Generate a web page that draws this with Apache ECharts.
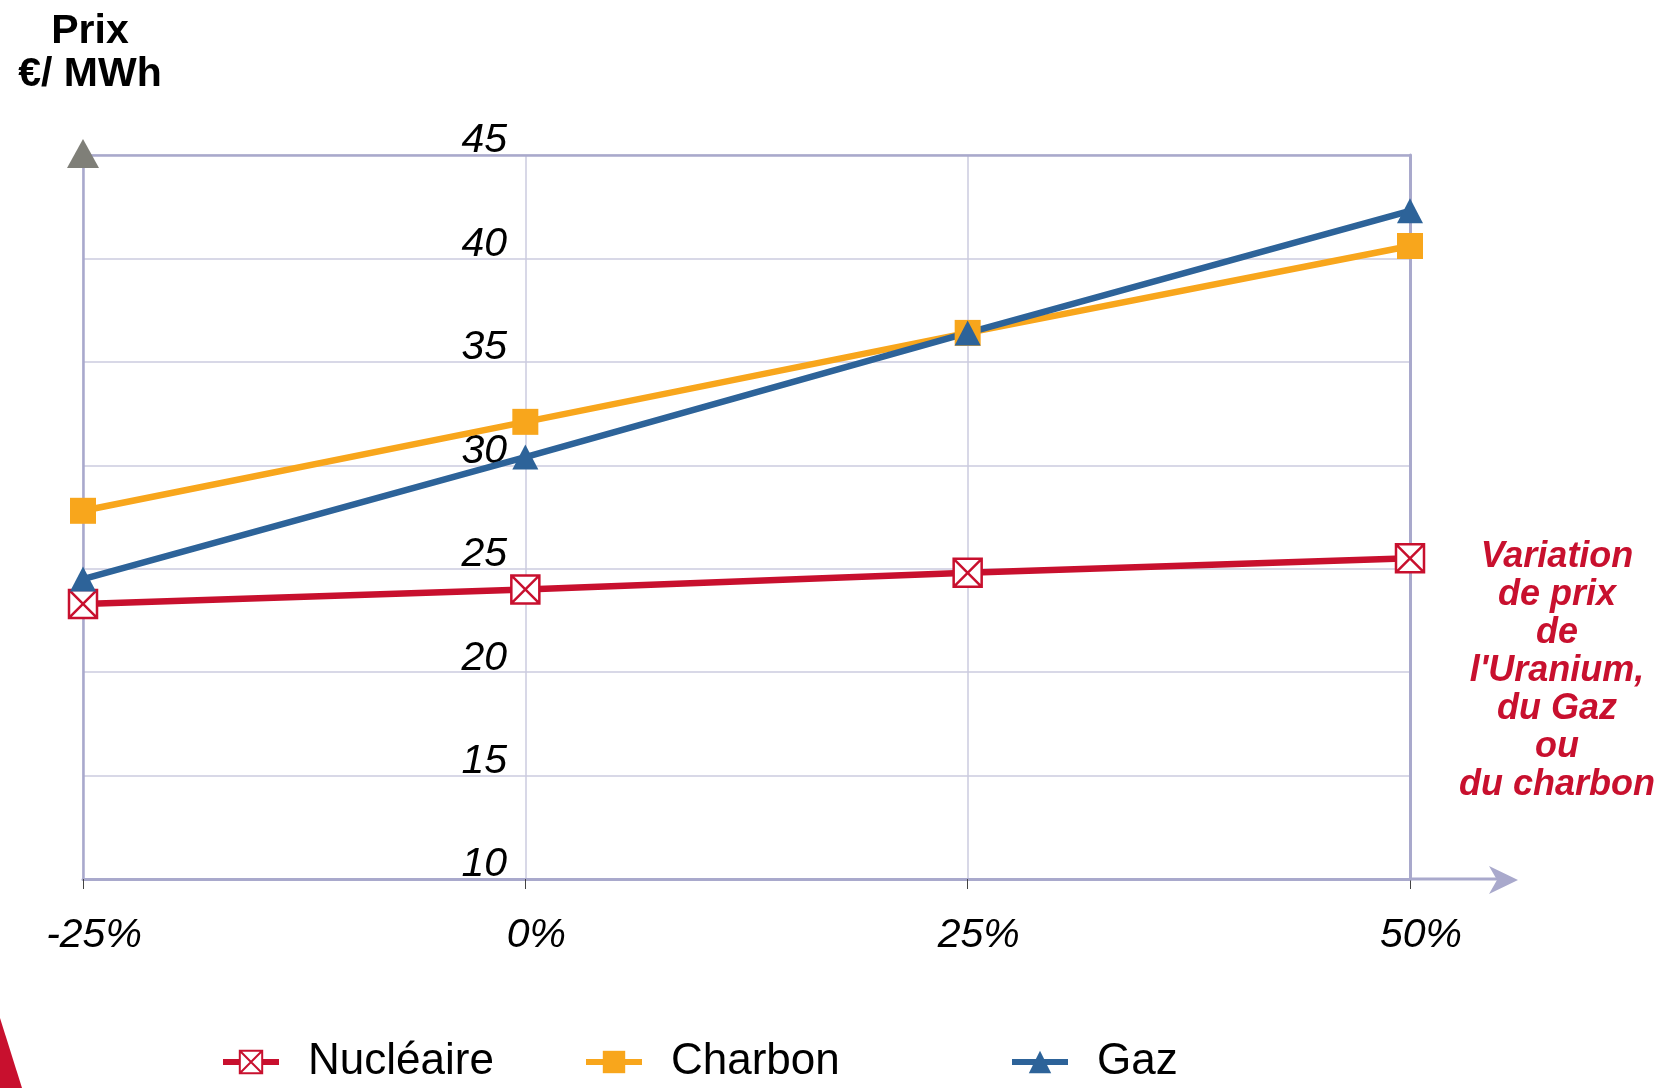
<!DOCTYPE html>
<html>
<head>
<meta charset="utf-8">
<script src="https://cdn.jsdelivr.net/npm/echarts@6/dist/echarts.min.js"></script>
<style>
  html, body { margin: 0; padding: 0; background: #ffffff; }
  #chart { width: 1662px; height: 1088px; }
</style>
</head>
<body>
<div id="chart"></div>
<script>
// Price variation scenarios (x) and resulting generation cost in €/MWh (y)
const categories = ['-25%', '0%', '25%', '50%'];
const nucleaire = [23.3, 24.0, 24.8, 25.5];
const charbon = [27.8, 32.1, 36.4, 40.6];
const gaz = [24.5, 30.4, 36.4, 42.3];
const seriesNames = ['Nucléaire', 'Charbon', 'Gaz'];
const yMin = 10, yMax = 45, yStep = 5;

const RED = '#c8102e';
const ORANGE = '#f8a61c';
const BLUE = '#2d6399';
const AXIS = '#a9a9cc';
const GRID = '#cbcbdf';
const FONT = '"Liberation Sans", Arial, sans-serif';

const boxCross = 'path://M0,0H20V20H0Z M0,0L20,20 M20,0L0,20';

const chart = echarts.init(document.getElementById('chart'), null, { renderer: 'canvas' });

const legendBase = {
  orient: 'horizontal',
  itemWidth: 56,
  itemHeight: 28,
  top: 1035,
  lineStyle: { width: 6 },
  textStyle: { fontSize: 44, color: '#000', fontFamily: FONT, padding: [0, 0, 0, 24] }
};

chart.setOption({
  backgroundColor: '#ffffff',
  animation: false,
  title: [
    {
      text: 'Prix\n€/ MWh',
      left: 85,
      top: 5,
      textAlign: 'center',
      textStyle: { fontSize: 41, fontWeight: 'bold', color: '#000', fontFamily: FONT, lineHeight: 43 }
    },
    {
      text: "Variation\nde prix\nde\nl'Uranium,\ndu Gaz\nou\ndu charbon",
      left: 1552,
      top: 533,
      textAlign: 'center',
      textStyle: { fontSize: 36, fontWeight: 'bold', fontStyle: 'italic', color: RED, fontFamily: FONT, lineHeight: 38 }
    }
  ],
  legend: [
    Object.assign({}, legendBase, { left: 215, data: [seriesNames[0]] }),
    Object.assign({}, legendBase, { left: 578, data: [seriesNames[1]] }),
    Object.assign({}, legendBase, { left: 1004, data: [seriesNames[2]] })
  ],
  grid: { left: 83, right: 252, top: 155, bottom: 209, containLabel: false },
  xAxis: [
    {
      type: 'category',
      data: categories,
      boundaryGap: false,
      axisLine: { show: true, lineStyle: { color: AXIS, width: 3 } },
      axisTick: { show: true, length: 10, lineStyle: { color: '#444', width: 1 } },
      axisLabel: {
        margin: 36, fontSize: 41, fontStyle: 'italic', color: '#000', fontFamily: FONT,
        padding: [0, 0, 0, 22]
      },
      splitLine: { show: true, lineStyle: { color: GRID, width: 1.5 } }
    },
    {
      type: 'category',
      data: categories,
      boundaryGap: false,
      position: 'top',
      axisLine: { show: true, lineStyle: { color: AXIS, width: 2.5 } },
      axisTick: { show: false },
      axisLabel: { show: false },
      splitLine: { show: false }
    }
  ],
  yAxis: [
    {
      type: 'value',
      min: yMin, max: yMax, interval: yStep,
      axisLine: { show: true, lineStyle: { color: AXIS, width: 2.5 } },
      axisTick: { show: false },
      axisLabel: {
        margin: -424, fontSize: 41, fontStyle: 'italic', color: '#000', fontFamily: FONT,
        align: 'right', verticalAlign: 'bottom', lineHeight: 28
      },
      splitLine: { show: true, lineStyle: { color: GRID, width: 1.5 } }
    },
    {
      type: 'value',
      min: yMin, max: yMax, interval: yStep,
      position: 'right',
      axisLine: { show: true, lineStyle: { color: AXIS, width: 3 } },
      axisTick: { show: false },
      axisLabel: { show: false },
      splitLine: { show: false }
    }
  ],
  series: [
    {
      name: seriesNames[0],
      type: 'line',
      data: nucleaire,
      symbol: boxCross,
      symbolSize: 28,
      lineStyle: { color: RED, width: 6.5 },
      itemStyle: { color: '#ffffff', borderColor: RED, borderWidth: 2.5 }
    },
    {
      name: seriesNames[1],
      type: 'line',
      data: charbon,
      symbol: 'rect',
      symbolSize: 26,
      lineStyle: { color: ORANGE, width: 6.5 },
      itemStyle: { color: ORANGE }
    },
    {
      name: seriesNames[2],
      type: 'line',
      data: gaz,
      symbol: 'triangle',
      symbolSize: [26, 25],
      lineStyle: { color: BLUE, width: 6.5 },
      itemStyle: { color: BLUE }
    }
  ]
});

// Axis arrows and the corner accent, placed from the axes' own pixel positions
const xLeft = chart.convertToPixel({ xAxisIndex: 0 }, categories[0]);
const xRight = chart.convertToPixel({ xAxisIndex: 0 }, categories[categories.length - 1]);
const yTop = chart.convertToPixel({ yAxisIndex: 0 }, yMax);
const yBottom = chart.convertToPixel({ yAxisIndex: 0 }, yMin);

chart.setOption({
  graphic: [
    {
      type: 'polygon',
      shape: { points: [[xLeft, yTop - 16], [xLeft + 16, yTop + 13], [xLeft - 16, yTop + 13]] },
      style: { fill: '#7f7f78' },
      z: 100
    },
    {
      type: 'line',
      shape: { x1: xRight, y1: yBottom, x2: xRight + 100, y2: yBottom },
      style: { stroke: AXIS, lineWidth: 3 },
      z: 100
    },
    {
      type: 'polygon',
      shape: { points: [[xRight + 79, yBottom - 13], [xRight + 108, yBottom + 1], [xRight + 79, yBottom + 15], [xRight + 87, yBottom + 1]] },
      style: { fill: AXIS },
      z: 100
    },
    {
      type: 'polygon',
      shape: { points: [[0, 1018], [22, 1088], [0, 1088]] },
      style: { fill: RED },
      z: 100
    }
  ]
});
</script>
</body>
</html>
